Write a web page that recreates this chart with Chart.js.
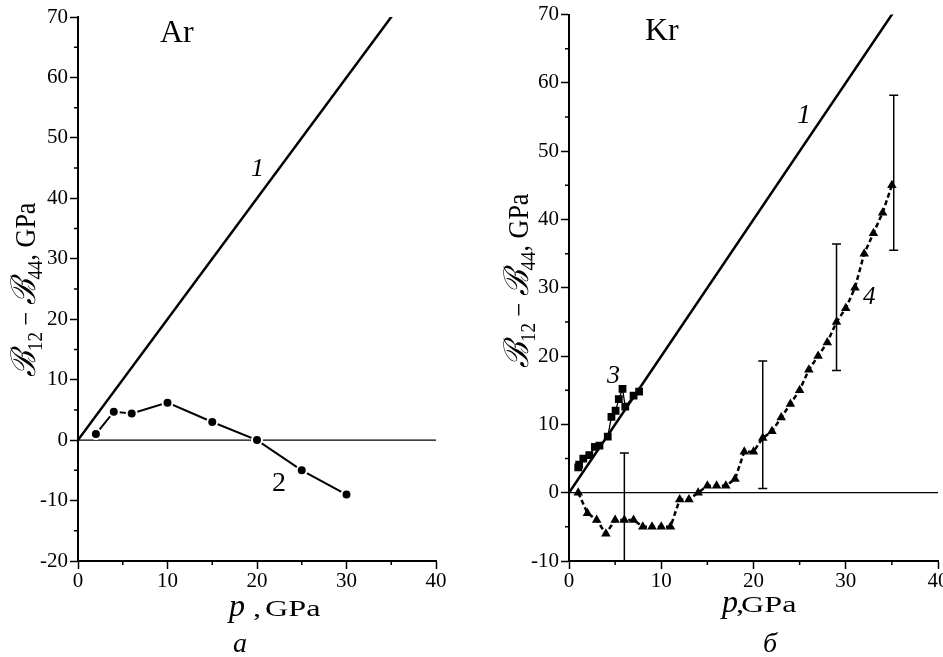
<!DOCTYPE html>
<html>
<head>
<meta charset="utf-8">
<script src="https://cdn.jsdelivr.net/npm/chart.js@4.4.0/dist/chart.umd.min.js"></script>
<style>
  html, body { margin: 0; padding: 0; background: #fff; overflow: hidden; }
  #wrapAr { position: absolute; left: 0; top: 0; width: 470px; height: 657px; }
  #wrapKr { position: absolute; left: 480px; top: 0; width: 480px; height: 657px; }
</style>
</head>
<body>
<div id="wrapAr"><canvas id="chartAr" width="470" height="657"></canvas></div>
<div id="wrapKr"><canvas id="chartKr" width="480" height="657"></canvas></div>
<script>
// ---------- data ----------
// straight line 1 (both panels)
const line1P = [0, 40];
const line1B = [0, 80];
// zero reference line
const zeroP = [0, 40];
const zeroB = [0, 0];

// Ar, curve 2
const arP = [2, 4, 6, 10, 15, 20, 25, 30];
const arB = [1, 4.7, 4.4, 6.2, 3, 0, -5, -9];

// Kr, curve 3 (squares)
const kr3P = [1.0, 1.1, 1.55, 2.2, 2.8, 3.3, 4.2, 4.6, 5.05, 5.4, 5.8, 6.1, 7.0, 7.6];
const kr3B = [3.7, 4.1, 5.0, 5.5, 6.7, 6.9, 8.2, 11.1, 12.0, 13.7, 15.2, 12.6, 14.2, 14.8];

// Kr, curve 4 (triangles)
const kr4P = [1, 2, 3, 4, 5, 6, 7, 8, 9, 10, 11, 12, 13, 14, 15, 16, 17, 18, 19, 20,
              21, 22, 23, 24, 25, 26, 27, 28, 29, 30, 31, 32, 33, 34, 35];
const kr4B = [0, -3, -4, -6, -4, -4, -4, -5, -5, -5, -5, -1, -1, 0, 1, 1, 1, 2, 6, 6,
              8, 9, 11, 13, 15, 18, 20, 22, 25, 27, 30, 35, 38, 41, 45];

// error bars on curve 4
const errP = [6, 21, 29, 35.2];
const errLo = [-14, 0.6, 17.9, 35.5];
const errHi = [5.8, 19.3, 36.4, 58.2];

// ticks
const xTicks = [0, 10, 20, 30, 40];
const xMinor = [5, 15, 25, 35];
const yTicksAr = [-20, -10, 0, 10, 20, 30, 40, 50, 60, 70];
const yMinorAr = [-15, -5, 5, 15, 25, 35, 45, 55, 65];
const yTicksKr = [-10, 0, 10, 20, 30, 40, 50, 60, 70];
const yMinorKr = [-5, 5, 15, 25, 35, 45, 55, 65];

// ---------- helpers ----------
const SERIF = "'Liberation Serif', 'Times New Roman', serif";
const tickFont = { family: SERIF, size: 21 };
const STRETCH = 1.4;     // x title is drawn wider than tall
const Y_STRETCH = 1.1;

function pts(xs, ys) {
  return xs.map((x, i) => ({ x: x, y: ys[i] }));
}

function drawText(ctx, t) {
  ctx.save();
  ctx.translate(t.x, t.y);
  ctx.scale(t.sx || 1, 1);
  ctx.font = t.font;
  ctx.fillStyle = '#000';
  ctx.textBaseline = 'alphabetic';
  ctx.textAlign = 'left';
  ctx.fillText(t.t, 0, 0);
  ctx.restore();
}

// rotated title made of runs (script B, subscripts ...)
function drawYTitle(ctx, bx, by, runs) {
  ctx.save();
  ctx.translate(bx, by);
  ctx.scale(Y_STRETCH, 1);
  ctx.rotate(-Math.PI / 2);
  ctx.fillStyle = '#000';
  ctx.textBaseline = 'alphabetic';
  ctx.textAlign = 'left';
  let cx = 0;
  runs.forEach(r => {
    ctx.font = r.font;
    ctx.fillText(r.t, cx, r.dy || 0);
    cx += ctx.measureText(r.t).width;
  });
  ctx.restore();
}

const yTitleRuns = [
  { t: '\u212C', font: 'italic 31px "DejaVu Serif"' },
  { t: '12', font: '19px ' + SERIF, dy: 6 },
  { t: ' \u2212 ', font: '25px ' + SERIF },
  { t: '\u212C', font: 'italic 31px "DejaVu Serif"' },
  { t: '44', font: '19px ' + SERIF, dy: 6 },
  { t: ', GPa', font: '26px ' + SERIF }
];

function makePanelPlugin(cfg) {
  return {
    id: 'panel' + cfg.name,
    afterDatasetsDraw(chart) {
      if (!cfg.err) return;
      const ctx = chart.ctx, xs = chart.scales.x, ys = chart.scales.y, a = chart.chartArea;
      ctx.save();
      ctx.beginPath();
      ctx.rect(a.left, a.top, a.right - a.left, a.bottom - a.top);
      ctx.clip();
      ctx.strokeStyle = '#000';
      ctx.lineWidth = 1.5;
      cfg.err.p.forEach((p, i) => {
        const x = xs.getPixelForValue(p);
        const y1 = ys.getPixelForValue(cfg.err.lo[i]);
        const y2 = ys.getPixelForValue(cfg.err.hi[i]);
        ctx.beginPath();
        ctx.moveTo(x, y1); ctx.lineTo(x, y2);
        ctx.moveTo(x - 4.5, y1); ctx.lineTo(x + 4.5, y1);
        ctx.moveTo(x - 4.5, y2); ctx.lineTo(x + 4.5, y2);
        ctx.stroke();
      });
      ctx.restore();
    },
    afterDraw(chart) {
      const ctx = chart.ctx, xs = chart.scales.x, ys = chart.scales.y, a = chart.chartArea;
      // minor ticks
      ctx.save();
      ctx.strokeStyle = '#000';
      ctx.lineWidth = 1.5;
      ctx.beginPath();
      xMinor.forEach(v => {
        const x = xs.getPixelForValue(v);
        ctx.moveTo(x, a.bottom); ctx.lineTo(x, a.bottom + 4);
      });
      cfg.yMinor.forEach(v => {
        const y = ys.getPixelForValue(v);
        ctx.moveTo(a.left, y); ctx.lineTo(a.left - 4, y);
      });
      ctx.stroke();
      ctx.restore();
      cfg.texts.forEach(t => drawText(ctx, t));
      drawYTitle(ctx, cfg.yTitle.x, cfg.yTitle.y, yTitleRuns);
    }
  };
}

function makeOptions(yTicks, yWidth, pad) {
  const axisGrid = { drawOnChartArea: false, tickLength: 8, tickColor: '#000', tickWidth: 1.5 };
  const axisBorder = { color: '#000', width: 2 };
  return {
    responsive: false,
    animation: false,
    events: [],
    layout: { padding: pad },
    plugins: { legend: { display: false }, tooltip: { enabled: false } },
    scales: {
      x: {
        type: 'linear', min: 0, max: 40,
        afterBuildTicks: s => { s.ticks = xTicks.map(v => ({ value: v })); },
        afterFit: s => { s.height = 96; },
        ticks: { font: tickFont, color: '#000', padding: 0, maxRotation: 0, autoSkip: false },
        grid: axisGrid, border: axisBorder
      },
      y: {
        type: 'linear', min: yTicks[0], max: yTicks[yTicks.length - 1],
        afterBuildTicks: s => { s.ticks = yTicks.map(v => ({ value: v })); },
        afterFit: s => { s.width = yWidth; },
        ticks: { font: tickFont, color: '#000', padding: 2, autoSkip: false },
        grid: axisGrid, border: axisBorder
      }
    }
  };
}

const lineStyle = { borderColor: '#000', backgroundColor: '#000', fill: false, tension: 0 };

// ---------- panel a: Ar ----------
new Chart(document.getElementById('chartAr'), {
  type: 'line',
  data: {
    datasets: [
      Object.assign({ data: pts(arP, arB), borderWidth: 2, pointRadius: 5,
        pointBackgroundColor: '#000', pointBorderColor: '#fff', pointBorderWidth: 2 }, lineStyle),
      Object.assign({ data: pts(line1P, line1B), borderWidth: 2.5, pointRadius: 0 }, lineStyle),
      Object.assign({ data: pts(zeroP, zeroB), borderWidth: 1.3, pointRadius: 0 }, lineStyle)
    ]
  },
  options: makeOptions(yTicksAr, 78, { left: 0, right: 34, top: 17, bottom: 0 }),
  plugins: [makePanelPlugin({
    name: 'Ar',
    yMinor: yMinorAr,
    yTitle: { x: 35, y: 377 },
    texts: [
      { t: 'Ar', font: '32px ' + SERIF, x: 160, y: 42 },
      { t: '1', font: 'italic 26px ' + SERIF, x: 251, y: 176 },
      { t: '2', font: '28px ' + SERIF, x: 272, y: 491 },
      { t: 'p', font: 'italic 32px ' + SERIF, x: 229, y: 616 },
      { t: ',', font: '23px ' + SERIF, x: 253, y: 616, sx: STRETCH },
      { t: 'GPa', font: '23px ' + SERIF, x: 265, y: 616, sx: STRETCH },
      { t: 'a', font: 'italic 28px ' + SERIF, x: 233, y: 652 }
    ]
  })]
});

// ---------- panel б: Kr ----------
new Chart(document.getElementById('chartKr'), {
  type: 'line',
  data: {
    datasets: [
      Object.assign({ data: pts(kr3P, kr3B), borderWidth: 1.3, pointRadius: 5.5,
        pointStyle: 'rect', pointBackgroundColor: '#000', pointBorderWidth: 0 }, lineStyle),
      Object.assign({ data: pts(kr4P, kr4B), borderWidth: 2.5, borderDash: [5, 3], pointRadius: 5.5,
        pointStyle: 'triangle', pointBackgroundColor: '#000', pointBorderWidth: 0 }, lineStyle),
      Object.assign({ data: pts(line1P, line1B), borderWidth: 2.5, pointRadius: 0 }, lineStyle),
      Object.assign({ data: pts(zeroP, zeroB), borderWidth: 1.3, pointRadius: 0 }, lineStyle)
    ]
  },
  options: makeOptions(yTicksKr, 89, { left: 0, right: 22, top: 13, bottom: 0 }),
  plugins: [makePanelPlugin({
    name: 'Kr',
    yMinor: yMinorKr,
    err: { p: errP, lo: errLo, hi: errHi },
    yTitle: { x: 48, y: 368 },
    texts: [
      { t: 'Kr', font: '32px ' + SERIF, x: 165, y: 40 },
      { t: '1', font: 'italic 28px ' + SERIF, x: 317, y: 123 },
      { t: '3', font: 'italic 26px ' + SERIF, x: 127, y: 383 },
      { t: '4', font: 'italic 25px ' + SERIF, x: 383, y: 304 },
      { t: 'p', font: 'italic 32px ' + SERIF, x: 242, y: 612 },
      { t: ',', font: '23px ' + SERIF, x: 256, y: 612, sx: STRETCH },
      { t: 'GPa', font: '23px ' + SERIF, x: 261, y: 612, sx: STRETCH },
      { t: '\u0431', font: 'italic 28px ' + SERIF, x: 283, y: 652 }
    ]
  })]
});
</script>
</body>
</html>
